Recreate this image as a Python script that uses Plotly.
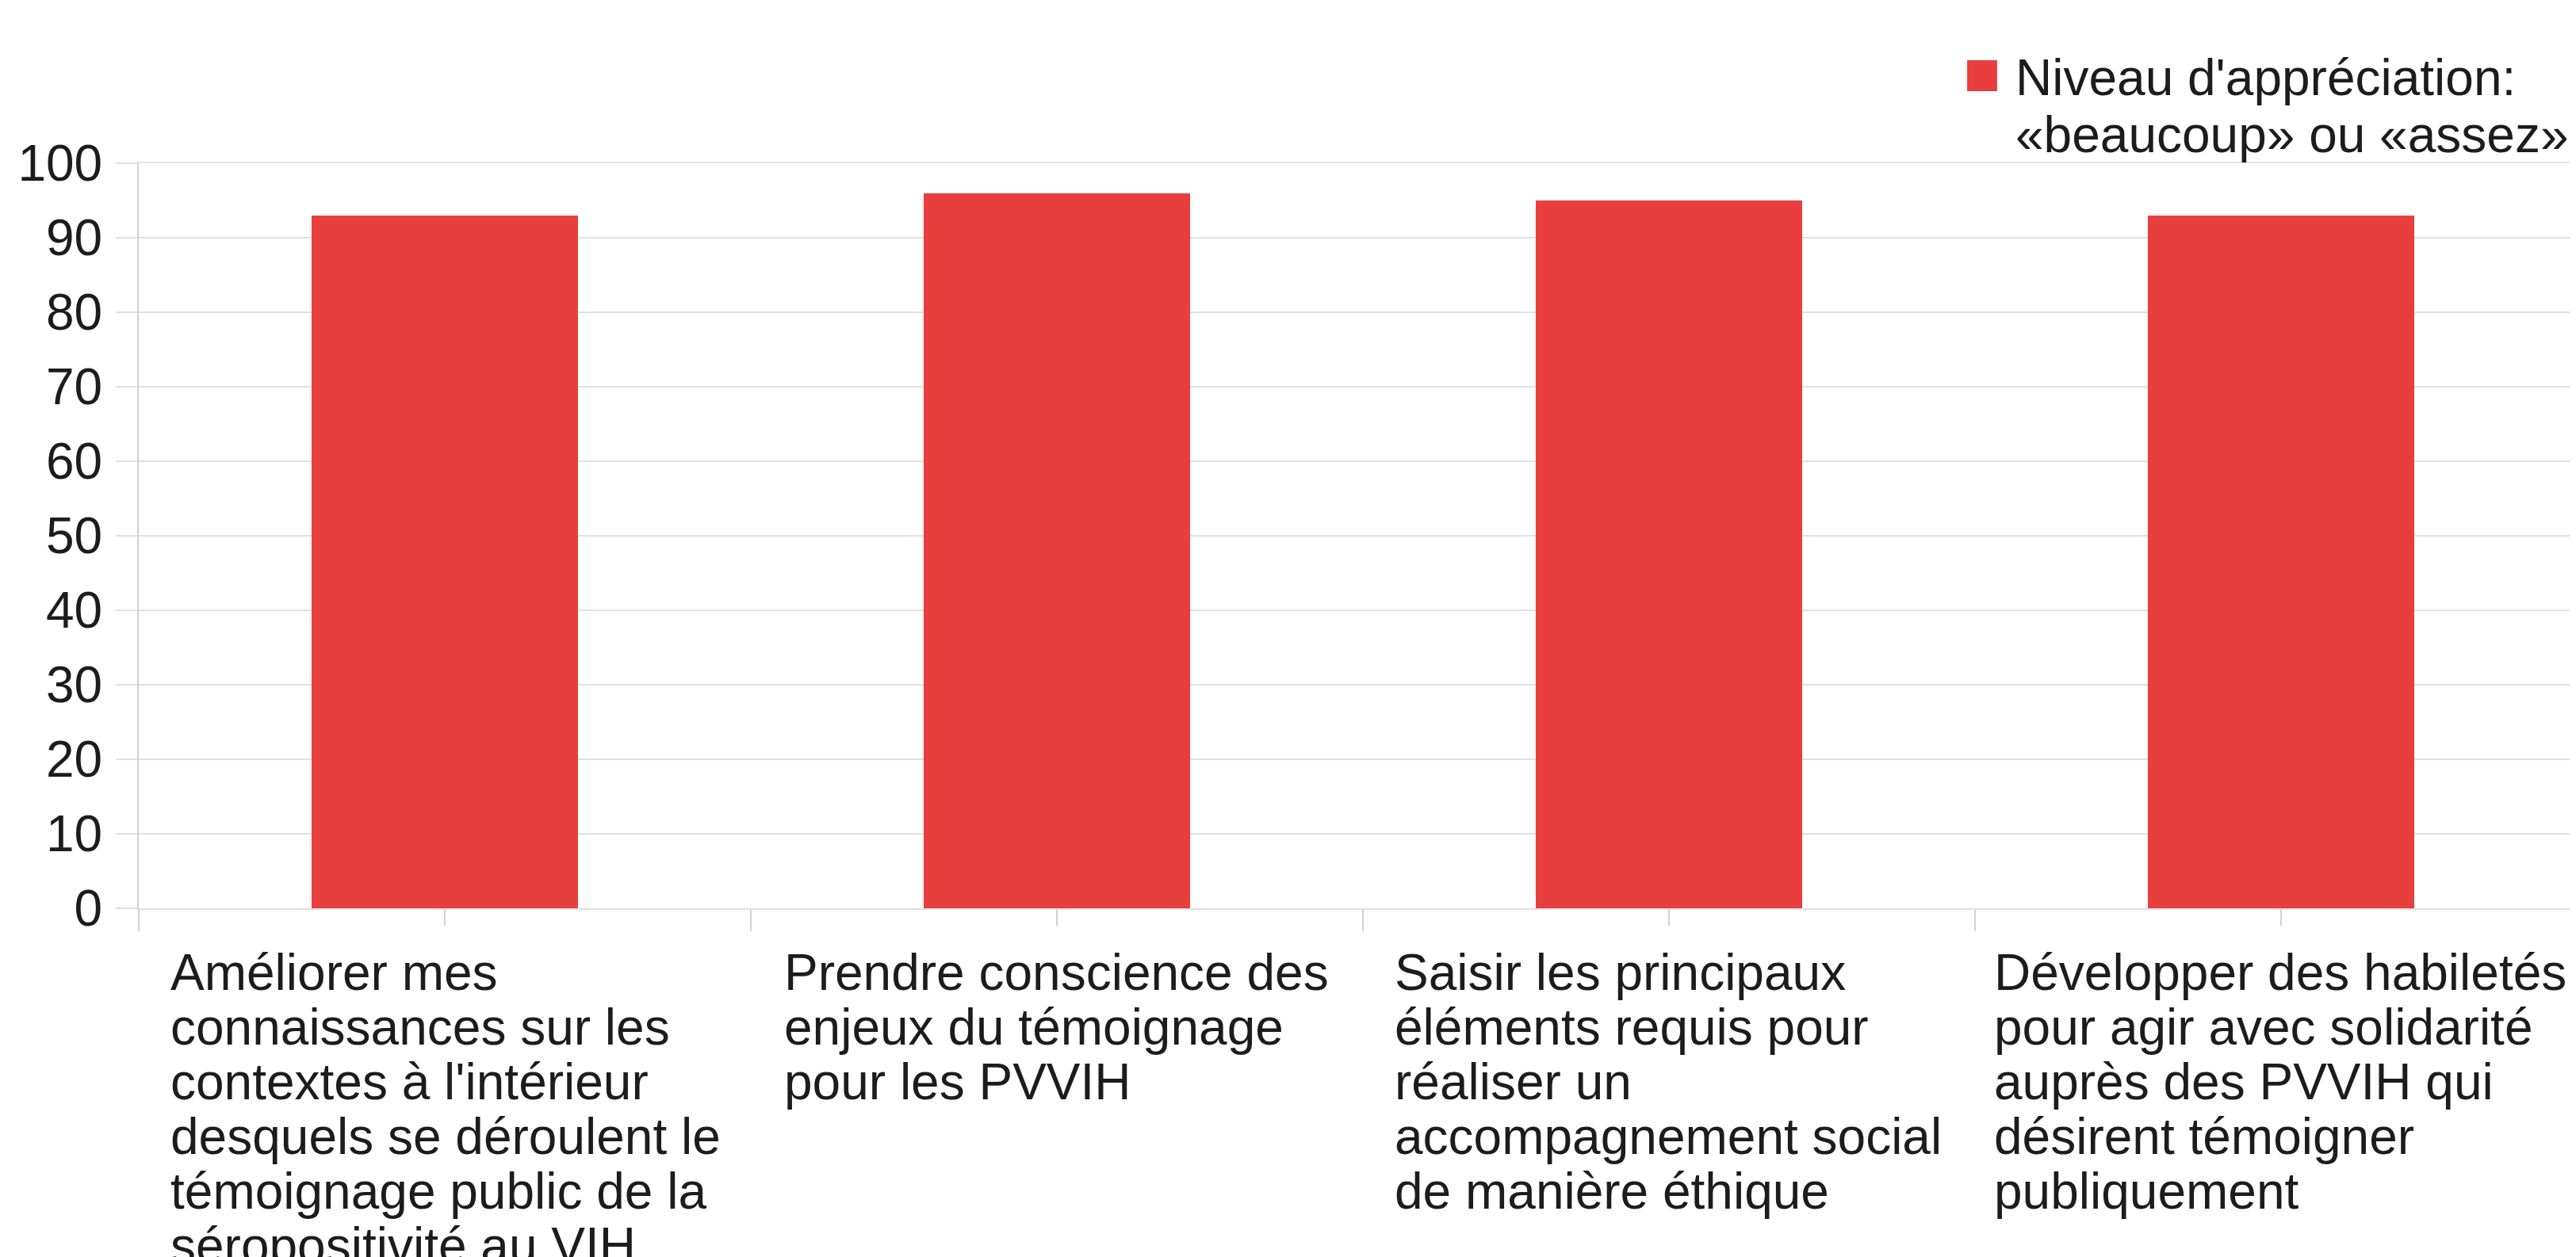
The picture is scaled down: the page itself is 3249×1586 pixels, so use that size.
import plotly.graph_objects as go

# ---------------- data ----------------
categories = [
    "Améliorer mes connaissances sur les contextes à l'intérieur desquels se déroulent le témoignage public de la séropositivité au VIH",
    "Prendre conscience des enjeux du témoignage pour les PVVIH",
    "Saisir les principaux éléments requis pour réaliser un accompagnement social de manière éthique",
    "Développer des habiletés pour agir avec solidarité auprès des PVVIH qui désirent témoigner publiquement",
]
label_lines = [
    ["Améliorer mes", "connaissances sur les", "contextes à l'intérieur",
     "desquels se déroulent le", "témoignage public de la", "séropositivité au VIH"],
    ["Prendre conscience des", "enjeux du témoignage", "pour les PVVIH"],
    ["Saisir les principaux", "éléments requis pour", "réaliser un",
     "accompagnement social", "de manière éthique"],
    ["Développer des habiletés", "pour agir avec solidarité", "auprès des PVVIH qui",
     "désirent témoigner", "publiquement"],
]
values = [93, 96, 95, 93]
series_name_lines = ["Niveau d'appréciation:", "«beaucoup» ou «assez»"]
y_ticks = [0, 10, 20, 30, 40, 50, 60, 70, 80, 90, 100]

# ---------------- style ----------------
FONT = "Liberation Sans, Arial, Helvetica, sans-serif"
TXT = "#1c1c1c"
BAR = "#E83E3E"
GRID = "#e0e0e0"
AXIS = "#d2d2d2"
FS = 64
LINE_PITCH = 69
FIRST_LINE = 81
LABEL_XSHIFT = [-348, -346, -348, -364]

idx = list(range(len(categories)))
bounds = [i - 0.5 for i in range(len(categories) + 1)]

fig = go.Figure()
fig.add_trace(go.Bar(
    x=idx, y=values, width=0.435,
    marker=dict(color=BAR, line=dict(width=0)),
    name=" ".join(series_name_lines), showlegend=False,
    hovertext=categories,
))

annotations = []
for i, lines in enumerate(label_lines):
    for j, line in enumerate(lines):
        annotations.append(dict(
            x=idx[i], y=0, xref="x", yref="y",
            xanchor="left", yanchor="middle",
            xshift=LABEL_XSHIFT[i], yshift=-(FIRST_LINE + LINE_PITCH * j),
            text=line, showarrow=False,
            font=dict(family=FONT, size=FS, color=TXT), align="left",
        ))

# legend (manual, to match the large square key and tight line spacing)
for j, line in enumerate(series_name_lines):
    annotations.append(dict(
        x=0.7695, y=1.115 - 0.0765 * j, xref="paper", yref="paper",
        xanchor="left", yanchor="middle",
        text=line, showarrow=False,
        font=dict(family=FONT, size=FS, color=TXT), align="left",
    ))

# the page body has an 8px default margin: size the figure so the plot
# area lands at the same pixels as the reference
fig.update_layout(
    width=3241, height=1578,
    margin=dict(l=167, r=0, t=198, b=440),
    paper_bgcolor="white", plot_bgcolor="white",
    font=dict(family=FONT, size=FS, color=TXT),
    bargap=0,
    xaxis=dict(
        range=[-0.5, 3.482],
        tickmode="array", tickvals=idx, showticklabels=False,
        ticks="outside", ticklen=20, tickwidth=2, tickcolor=AXIS,
        minor=dict(tickmode="array", tickvals=bounds, ticks="outside",
                   ticklen=27, tickwidth=2, tickcolor=AXIS, showgrid=False),
        showgrid=False, zeroline=False,
        showline=True, linecolor=GRID, linewidth=2, mirror=True,
    ),
    yaxis=dict(
        range=[0, 100], tickmode="array", tickvals=y_ticks,
        ticks="outside", ticklen=27, tickwidth=2, tickcolor=GRID,
        showgrid=True, gridcolor=GRID, gridwidth=2,
        zeroline=False, showline=True, linecolor=AXIS, linewidth=2,
        tickfont=dict(family=FONT, size=FS, color=TXT),
        ticklabelstandoff=4,
    ),
    shapes=[dict(type="rect", xref="paper", yref="paper",
                 x0=0.7502, x1=0.7625, y0=1.0968, y1=1.1383,
                 fillcolor=BAR, line=dict(width=0))],
    annotations=annotations,
    showlegend=False,
)

fig.write_html("out.html")
